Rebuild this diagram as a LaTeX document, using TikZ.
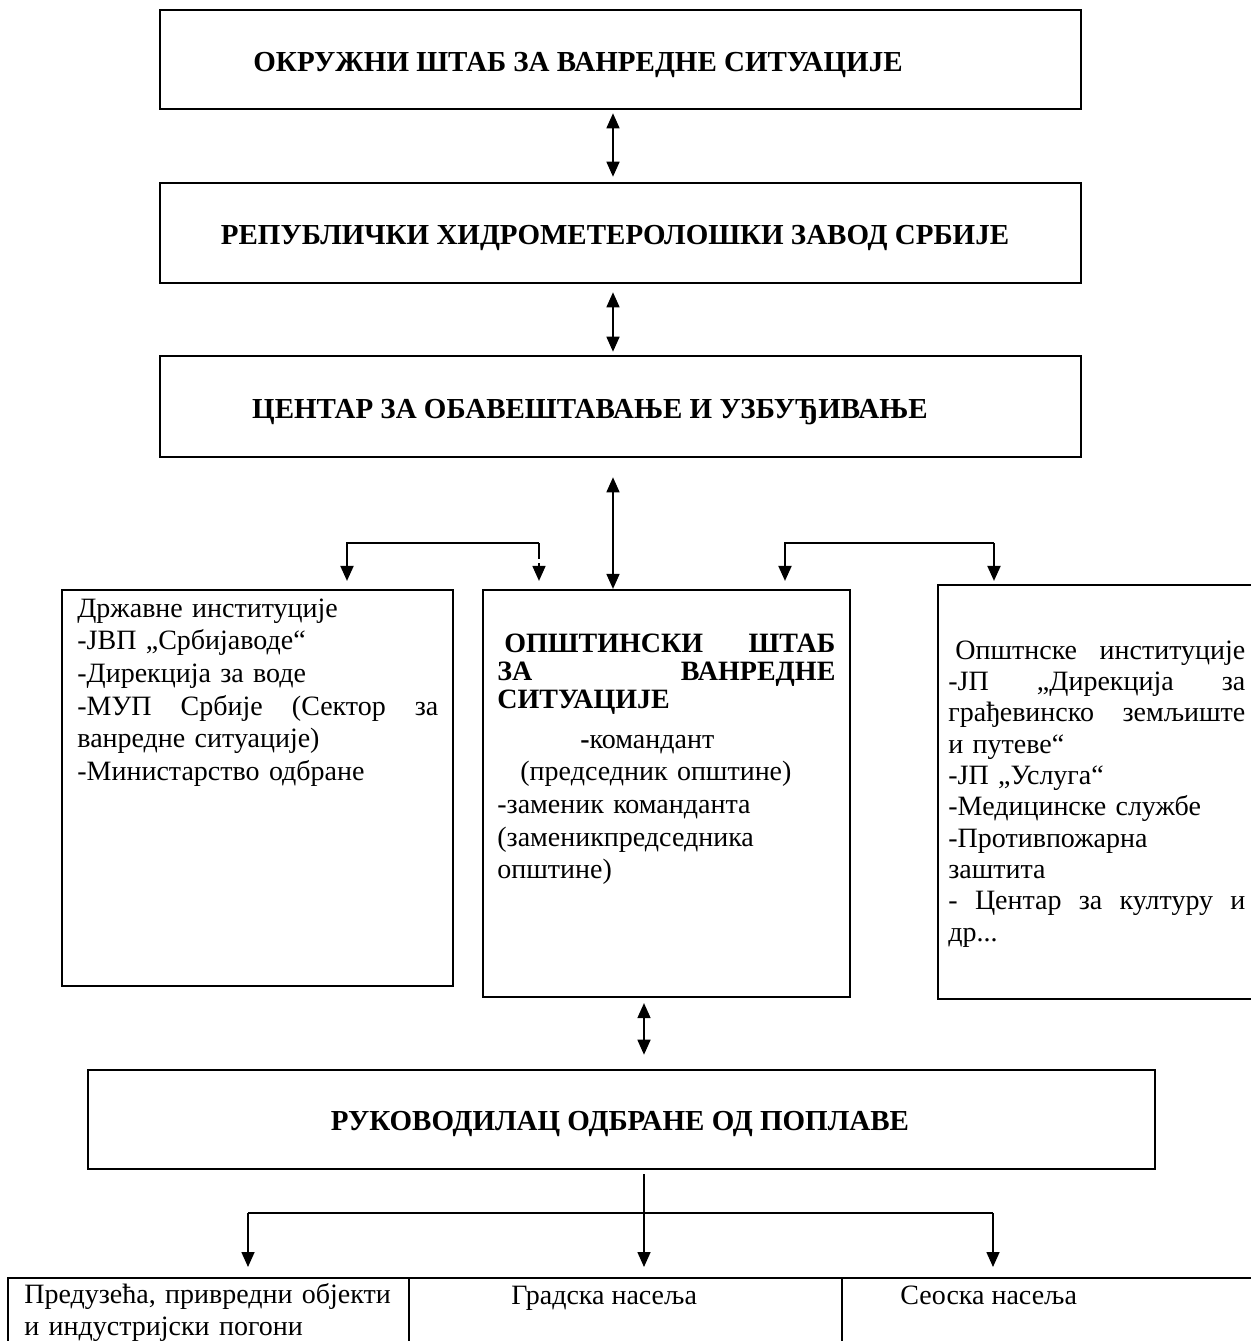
\documentclass[tikz,border=0pt]{standalone}
\usepackage{fontspec}
\setmainfont{Liberation Serif}
\usetikzlibrary{arrows.meta,positioning}

% one line spread to a given width
\newcommand{\jline}[2]{\leavevmode\hbox to #1{#2}}

\tikzset{
  box/.style={draw, line width=1.3pt, inner sep=0pt},
  cell/.style={draw, line width=1pt, inner sep=0pt, minimum height=46pt},
  titletext/.style={font=\fontsize{14.5}{17}\selectfont\bfseries, inner sep=0pt, anchor=base},
  bodytext/.style={font=\fontsize{14}{16.3}\selectfont, inner sep=0pt, align=left, anchor=north west},
  tip/.style={-{Triangle[length=7.5pt,width=6.5pt]}},
  link/.style={line width=0.8pt, tip},
  twoway/.style={line width=0.8pt, {Triangle[length=7.5pt,width=6.5pt]}-{Triangle[length=7.5pt,width=6.5pt]}},
  fork/.style={line width=1pt},
}

\begin{document}
\begin{tikzpicture}[x=0.5pt, y=-0.5pt]
\useasboundingbox (0,0) rectangle (1250,1341);

% top boxes
\node[box, minimum width=460.5pt, minimum height=49.5pt] (okrug) at (620.5,59.5) {};
\node[box, minimum width=460.5pt, minimum height=50pt] (rhmz) at (620.5,233) {};
\node[box, minimum width=460.5pt, minimum height=50.5pt] (centar) at (620.5,406.5) {};
\node[titletext] (okrugt) at (578,71) {ОКРУЖНИ ШТАБ ЗА ВАНРЕДНЕ СИТУАЦИЈЕ};
\node[titletext] (rhmzt) at (615,244) {РЕПУБЛИЧКИ ХИДРОМЕТЕРОЛОШКИ ЗАВОД СРБИЈЕ};
\node[titletext] (centart) at (590,418) {ЦЕНТАР ЗА ОБАВЕШТАВАЊЕ И УЗБУЂИВАЊЕ};

% middle row
\node[box, line width=1.1pt, minimum width=195.5pt, minimum height=198pt] (drz) at (257.5,788) {};
\node[box, line width=1.1pt, minimum width=183.5pt, minimum height=203.5pt] (opst) at (666.5,793.5) {};
\node[box, line width=1.1pt, minimum width=161pt, minimum height=207pt] (opin) at (1099,792) {};

\node[bodytext, text width=180.5pt] (drzt) at (77,594) {\strut Државне институције\\
-ЈВП „Србијаводе“\\
-Дирекција за воде\\
\jline{180.5pt}{-МУП \hfil Србије \hfil (Сектор \hfil за}\\
ванредне ситуације)\\
-Министарство одбране};

\node[bodytext, text width=169pt, font=\fontsize{14}{14}\selectfont\bfseries] (opsth) at (497,632) {\strut\jline{169pt}{\hspace*{3.5pt}ОПШТИНСКИ \hfil ШТАБ}\\
\jline{169pt}{ЗА\hfil ВАНРЕДНЕ}\\
СИТУАЦИЈЕ};
\node[bodytext, text width=169pt] (opstt) at (497,725) {\strut\hspace*{41.5pt}{\bfseries-}командант\\
\hspace*{11.5pt}(председник општине)\\
-заменик команданта\\
(заменикпредседника\\
општине)};

\node[bodytext, text width=148.5pt, font=\fontsize{14}{15.65}\selectfont] (opint) at (948,637) {\strut\jline{148.5pt}{\hspace*{3.5pt}Општнске \hfil институције}\\
\jline{148.5pt}{-ЈП \hfil „Дирекција \hfil за}\\
\jline{148.5pt}{грађевинско \hfil земљиште}\\
и путеве“\\
-ЈП „Услуга“\\
-Медицинске службе\\
-Противпожарна\\
заштита\\
\jline{148.5pt}{- \hfil Центар \hfil за \hfil културу \hfil и}\\
др...};

% flood defence
\node[box, minimum width=533.5pt, minimum height=49.5pt] (ruk) at (621.5,1119.5) {};
\node[titletext] (rukt) at (620,1130) {РУКОВОДИЛАЦ ОДБРАНЕ ОД ПОПЛАВЕ};

% bottom row
\node[cell, minimum width=200.5pt] (pred) at (208.5,1324) {};
\node[cell, minimum width=216.5pt] (grad) at (625.5,1324) {};
\node[cell, minimum width=214pt] (seo) at (1056,1324) {};
\node[bodytext, text width=200pt, font=\fontsize{14}{16}\selectfont] (predt) at (24,1281) {\strut Предузећа, привредни објекти\\
и индустријски погони};
\node[bodytext, anchor=base west] (gradt) at (511,1304) {Градска насеља};
\node[bodytext, anchor=base west] (seot) at (900,1304) {Сеоска насеља};

% connectors
\coordinate (axisA) at (613,0);
\coordinate (axisB) at (644,0);
\draw[twoway, shorten <=1.5pt, shorten >=2.5pt] (okrug.south -| axisA) -- (rhmz.north -| axisA);
\draw[twoway, shorten <=4pt, shorten >=1.5pt] (rhmz.south -| axisA) -- (centar.north -| axisA);
\draw[twoway, shorten <=9.5pt] (centar.south -| axisA) -- (opst.north -| axisA);

\coordinate (brL1) at (347,543);
\coordinate (brL2) at (539,543);
\draw[fork] (brL2) -- ++(0,16);
\draw[link, fork, shorten >=4pt] (brL2) -| (brL1 |- drz.north);
\draw[link, shorten >=4pt] ([yshift=-10pt]brL2) -- (brL2 |- opst.north);

\coordinate (brR1) at (785,543);
\coordinate (brR2) at (994,543);
\draw[link, fork, shorten >=4pt] (brR2) -| (brR1 |- opst.north);
\draw[link, fork, shorten >=1.5pt] (brR2) -- (brR2 |- opin.north);

\draw[twoway, shorten <=2.5pt, shorten >=7pt] (opst.south -| axisB) -- (ruk.north -| axisB);

\coordinate (fL) at (248,1213);
\coordinate (fR) at (993,1213);
\draw[fork] (fL) -- (fR);
\draw[link, shorten <=2pt, shorten >=5pt] (ruk.south -| axisB) -- (grad.north -| axisB);
\draw[link, shorten >=5pt] (fL) -- (fL |- pred.north);
\draw[link, shorten >=5pt] (fR) -- (fR |- seo.north);
\end{tikzpicture}
\end{document}
